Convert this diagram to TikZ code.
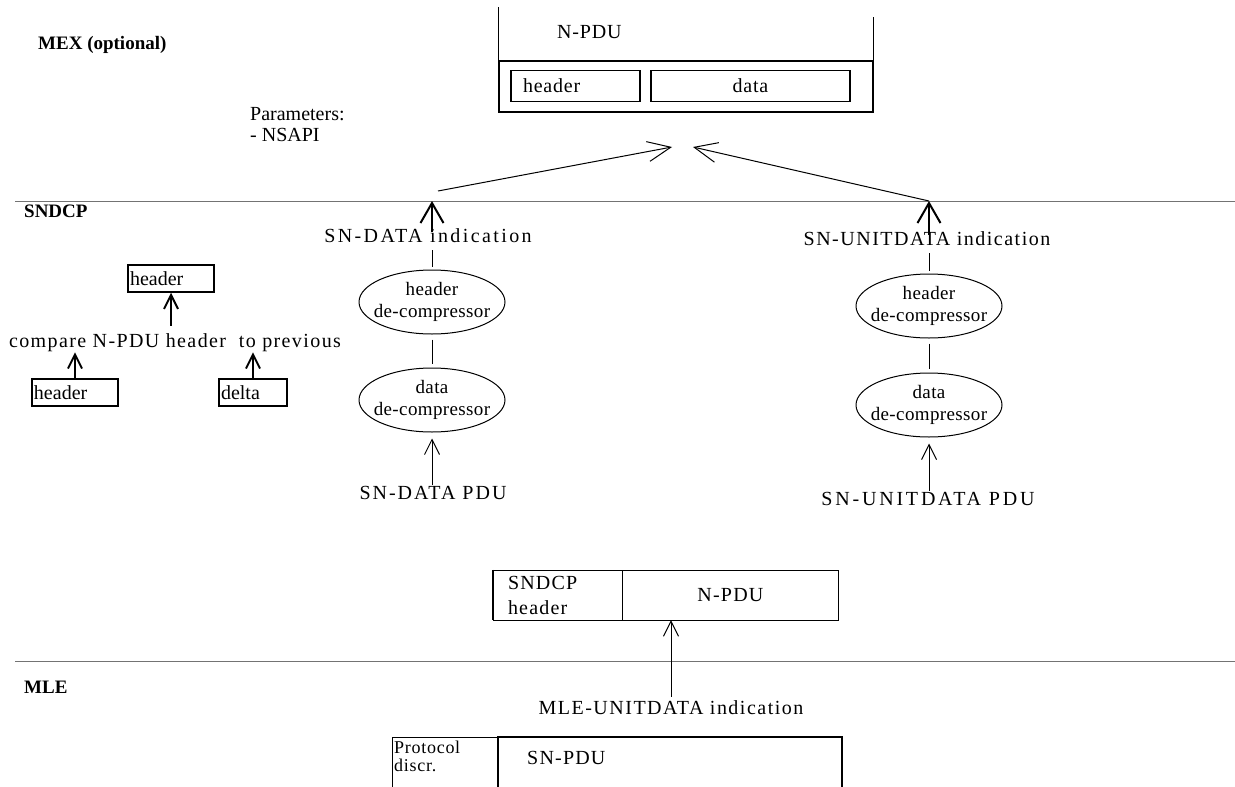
\documentclass[tikz,border=0pt]{standalone}
\usepackage{fontspec}
\setmainfont{Liberation Serif}
\usetikzlibrary{shapes.geometric,arrows.meta}

\begin{document}
\begin{tikzpicture}[x=1pt,y=-1pt,
  every node/.style={inner sep=0pt,font=\fontsize{20}{22}\selectfont},
  txt/.style={font=\fontsize{20}{22}\selectfont\addfontfeature{LetterSpace=#1}},
  txt/.default=0,
  layer/.style={anchor=west,font=\fontsize{19}{20}\selectfont\bfseries},
  fieldbox/.style={draw,line width=1.8pt,minimum height=31pt},
  smallbox/.style={draw,line width=1.5pt,minimum height=27pt,inner xsep=2pt,align=left},
  decomp/.style={draw,ellipse,line width=1pt,minimum width=146pt,minimum height=64pt,
    inner xsep=-9pt,align=center,font=\fontsize{19}{22}\selectfont\addfontfeature{LetterSpace=2}},
  bigup/.style={line width=2pt,-{Straight Barb[length=20pt,width=23pt]}},
  smallup/.style={line width=2pt,-{Straight Barb[length=14pt,width=14pt]}},
  thinup/.style={line width=1pt,-{Straight Barb[length=15pt,width=15pt]}},
  conv/.style={line width=1pt,-{Straight Barb[length=23pt,width=20pt]}},
  sep/.style={draw=black!55,line width=1pt}]

  \useasboundingbox (0,0) rectangle (1235,787);

  \draw[sep] (15,201) -- (1235,201);
  \draw[sep] (15,661) -- (1235,661);

  \node[layer] (mex) at (38,45) {MEX (optional)};
  \node[layer] (sndcp) at (24,211) {SNDCP};
  \node[layer] (mle) at (24,687) {MLE};

  % N-PDU at the MEX
  \node[draw,line width=1.8pt,minimum width=374pt,minimum height=51pt] (npdu) at (686,86.5) {};
  \draw[line width=1pt] (npdu.north west) -- ++(0,-53);
  \draw[line width=1pt] (npdu.north east) -- ++(0,-43);
  \node[anchor=west,txt=4] (npdulbl) at (557,32) {N-PDU};
  \node[fieldbox,text width=105pt,inner xsep=12pt,align=left,txt=4] (nhdr) at (575.5,86) {header};
  \node[fieldbox,minimum width=199pt,txt=4] (ndata) at (750.5,86) {data};
  \node[anchor=west,align=left,font=\fontsize{20}{21}\selectfont] (params) at (250,125) {Parameters:\\- NSAPI};

  \coordinate (mexL) at (672,147);
  \coordinate (mexR) at (693,147);
  \coordinate (upL) at (438,191);
  \coordinate (top1) at (432,201);
  \coordinate (top2) at (929,201);

  % SN-DATA path
  \node[txt=12] (ind1) at (428,236) {SN-DATA indication};
  \node[decomp] (hdec1) at (432,302) {header\\de-compressor};
  \node[decomp] (ddec1) at (432,400) {data\\de-compressor};
  \node[txt=10] (pdu1) at (433,493) {SN-DATA PDU};
  \draw[bigup] (ind1.north -| top1) ++(0,3) -- (top1);
  \draw[shorten <=7pt,shorten >=3pt] (ind1.south -| hdec1) -- (hdec1.north);
  \draw[shorten <=5pt,shorten >=4pt] (hdec1.south) -- (ddec1.north);
  \draw[thinup,shorten <=1pt,shorten >=6pt] (pdu1.north -| ddec1) -- (ddec1.south);

  % SN-UNITDATA path
  \node[txt=7.5] (ind2) at (927,239) {SN-UNITDATA indication};
  \node[decomp] (hdec2) at (929,306) {header\\de-compressor};
  \node[decomp] (ddec2) at (929,405) {data\\de-compressor};
  \node[txt=14] (pdu2) at (928,499) {SN-UNITDATA PDU};
  \draw[bigup] (ind2.north -| top2) ++(0,3) -- (top2);
  \draw[shorten <=7pt,shorten >=3pt] (ind2.south -| hdec2) -- (hdec2.north);
  \draw[shorten <=5pt,shorten >=4pt] (hdec2.south) -- (ddec2.north);
  \draw[thinup,shorten <=1pt,shorten >=6pt] (pdu2.north -| ddec2) -- (ddec2.south);

  \draw[conv] (upL) -- (mexL);
  \draw[conv] (top2) -- (mexR);

  % header compare
  \node[smallbox,text width=82pt] (prevhdr) at (171,278.5) {header};
  \node[txt=7] (cmp) at (175,343) {compare N-PDU header\ \ to previous};
  \node[smallbox,text width=82pt] (curhdr) at (75,392.5) {header};
  \node[smallbox,text width=64pt] (delta) at (253,392.5) {delta};
  \draw[smallup,shorten <=8pt] (cmp.north -| prevhdr) -- (prevhdr.south);
  \draw[smallup] (curhdr.north) -- (curhdr.north |- cmp.south);
  \draw[smallup] (delta.north) -- (delta.north |- cmp.south);

  % SN-PDU
  \node[draw,minimum width=129pt,minimum height=50pt,text width=99pt,inner xsep=12pt,
    align=left,font=\fontsize{20}{25}\selectfont\addfontfeature{LetterSpace=6}] (shdr) at (557.5,595) {SNDCP\\header};
  \node[draw,minimum width=216pt,minimum height=50pt,anchor=west,txt=6] (spdu) at (shdr.east) {N-PDU};
  \draw[line width=2.5pt] (shdr.north west) -- (shdr.south west);

  \node[txt=7.5] (mleind) at (671,708) {MLE-UNITDATA indication};
  \draw[thinup,shorten <=4pt] (mleind.north) -- (mleind.north |- spdu.south);

  % MLE PDU
  \draw[line width=1pt] (392,787) |- (498,737);
  \draw[line width=2.5pt] (498,787) -- (498,737) -- (842,737) -- (842,787);
  \node[anchor=north west,align=left,font=\fontsize{18}{18}\selectfont\addfontfeature{LetterSpace=4}] (proto) at (394,741) {Protocol\\discr.};
  \node[anchor=west,txt=6] (snpdu) at (527,758) {SN-PDU};
\end{tikzpicture}
\end{document}
